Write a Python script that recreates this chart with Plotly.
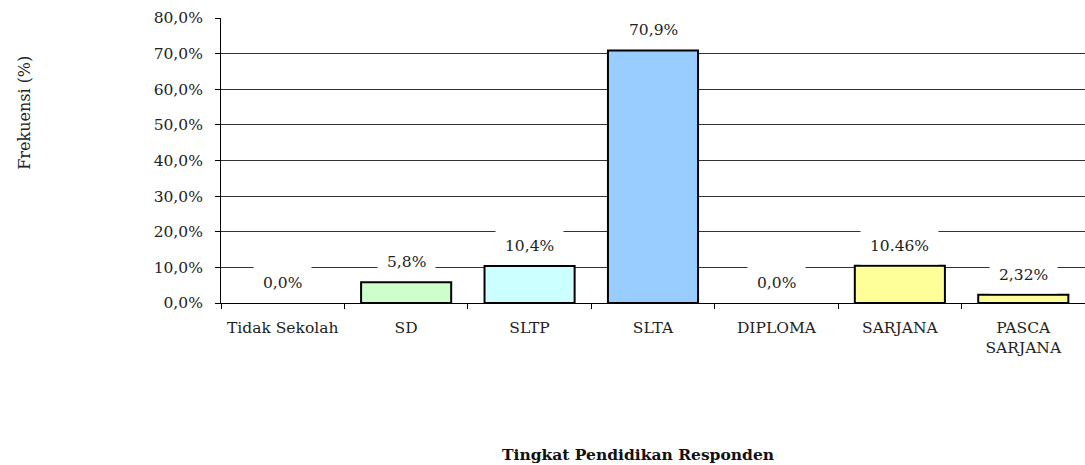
import plotly.graph_objects as go

categories = ["Tidak Sekolah", "SD", "SLTP", "SLTA", "DIPLOMA", "SARJANA", "PASCA<br>SARJANA"]
values = [0.0, 5.8, 10.4, 70.9, 0.0, 10.46, 2.32]
value_labels = ["0,0%", "5,8%", "10,4%", "70,9%", "0,0%", "10.46%", "2,32%"]
bar_colors = ["#CCFFCC", "#CCFFCC", "#CCFFFF", "#99CCFF", "#FFFF99", "#FFFF99", "#FFFF99"]
y_ticks = [0, 10, 20, 30, 40, 50, 60, 70, 80]
y_tick_labels = ["0,0%", "10,0%", "20,0%", "30,0%", "40,0%", "50,0%", "60,0%", "70,0%", "80,0%"]

FONT = "DejaVu Serif"

fig = go.Figure(go.Bar(
    x=categories, y=values,
    marker=dict(color=bar_colors,
                line=dict(color="black", width=[2 if v > 0 else 0 for v in values])),
    width=0.73,
    hoverinfo="skip",
))

for c, v, t in zip(categories, values, value_labels):
    fig.add_annotation(x=c, y=v, text=t, showarrow=False, yanchor="middle", yshift=20,
                       bgcolor="white", borderpad=9,
                       font=dict(family=FONT, size=15.5, color="#222"))

fig.add_annotation(xref="paper", yref="paper", x=-0.227, y=0.667, xanchor="center", yanchor="middle",
                   text="Frekuensi (%)",
                   textangle=-90, showarrow=False, font=dict(family=FONT, size=16, color="#222"))
fig.add_annotation(xref="paper", yref="paper", x=0.483, y=-0.533, xanchor="center", yanchor="middle",
                   text="<b>Tingkat Pendidikan Responden</b>",
                   showarrow=False, font=dict(family=FONT, size=15.5, color="#111"))

fig.update_layout(
    width=1085, height=465,
    margin=dict(l=221, r=0, t=18, b=162),
    plot_bgcolor="white", paper_bgcolor="white",
    showlegend=False,
    font=dict(family=FONT, size=15.5, color="#222"),
)
fig.update_xaxes(
    automargin=False,
    showline=True, linecolor="black", linewidth=1,
    ticks="outside", tickson="boundaries", ticklen=5, tickcolor="black",
    ticklabelstandoff=10,
    showgrid=False, tickfont=dict(family=FONT, size=15.5),
)
fig.update_yaxes(
    automargin=False,
    range=[0, 80], tickvals=y_ticks, ticktext=y_tick_labels,
    showline=True, linecolor="black", linewidth=1,
    ticks="outside", ticklen=5, tickcolor="black",
    ticklabelstandoff=9,
    showgrid=True, gridcolor="#333", gridwidth=1, zeroline=False,
    tickfont=dict(family=FONT, size=15.5),
)

fig.write_html("out.html", config={"displayModeBar": False},
               post_script="document.body.style.margin='0';document.body.style.overflow='hidden';")
